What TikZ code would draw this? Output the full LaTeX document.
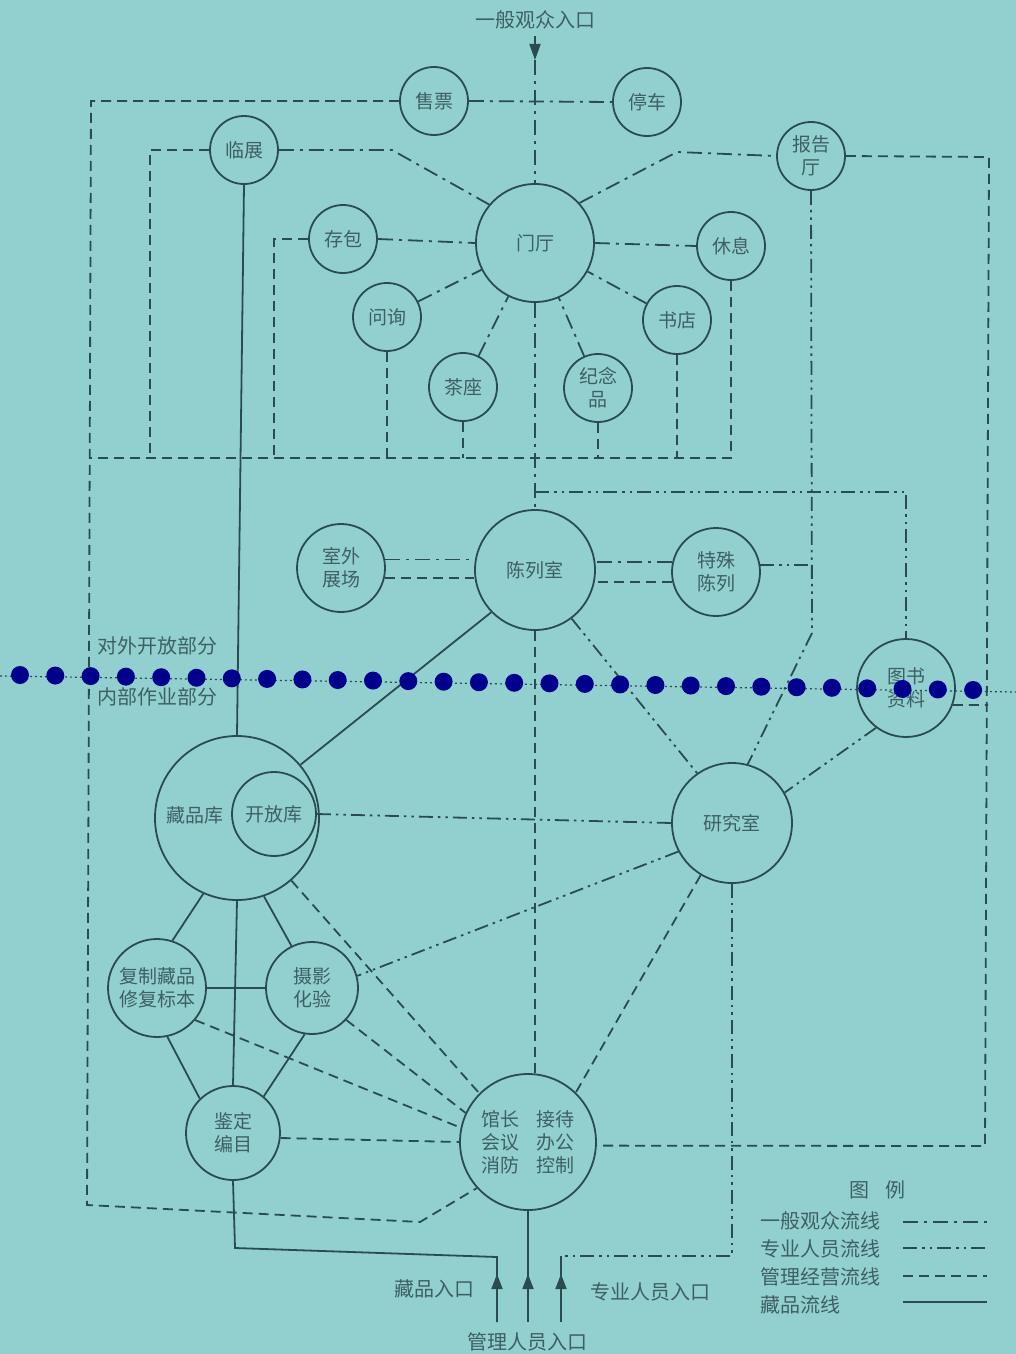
\documentclass[tikz,border=0pt]{standalone}
\usepackage{fontspec}
\newfontfamily\cjk{Noto Sans CJK SC}
\usetikzlibrary{arrows.meta}
\definecolor{paper}{RGB}{145,208,207}
\definecolor{ink}{RGB}{42,76,80}
\definecolor{inktext}{RGB}{62,96,100}
\definecolor{dotblue}{RGB}{0,0,140}

\begin{document}
\begin{tikzpicture}[x=1pt, y=-1pt, line width=1.8pt, color=ink]
  \tikzstyle{every node} = [inner sep=0pt, text=inktext, font=\cjk\fontsize{19}{23}\selectfont];
  \tikzstyle{room} = [draw=ink, circle, minimum size=68pt, align=center];
  \tikzstyle{sidetext} = [font=\cjk\fontsize{20}{24}\selectfont];
  \tikzstyle{visitor} = [dash pattern=on 15pt off 6pt on 3pt off 6pt];
  \tikzstyle{expert} = [dash pattern=on 14pt off 5pt on 2.5pt off 5pt on 2.5pt off 5pt];
  \tikzstyle{staff} = [dash pattern=on 10pt off 6pt];
  \tikzstyle{relic} = [solid];
  \useasboundingbox (0,0) rectangle (1016,1354);
  \fill[paper] (0,0) rectangle (1016,1354);

  % rooms, public part
  \node[room] (shoupiao) at (434,101) {售票};
  \node[room] (tingche) at (647,102) {停车};
  \node[room] (linzhan) at (244,150) {临展};
  \node[room] (baogao) at (811,156) {报告\\厅};
  \node[room, minimum size=118pt] (menting) at (535,243) {门厅};
  \node[room] (cunbao) at (343,239) {存包};
  \node[room] (xiuxi) at (731,246) {休息};
  \node[room] (wenxun) at (387,317) {问询};
  \node[room] (shudian) at (677,320) {书店};
  \node[room] (chazuo) at (463,387) {茶座};
  \node[room] (jinian) at (598,388) {纪念\\品};
  \node[room, minimum size=120pt] (chenlie) at (535,570) {陈列室};
  \node[room, minimum size=88pt] (shiwai) at (341,568) {室外\\展场};
  \node[room, minimum size=88pt] (teshu) at (716,572) {特殊\\陈列};
  \node[room, minimum size=98pt] (tushu) at (906,688) {图书\\资料};

  % rooms, inner part
  \node[room, minimum size=120pt] (yanjiu) at (732,823) {研究室};
  \node[room, minimum size=164pt] (cangpin) at (237,818) {};
  \node (cangpintext) at (195,815) {藏品库};
  \node[room, minimum size=84pt] (kaifang) at (274,814) {开放库};
  \node[room, minimum size=98pt] (fuzhi) at (157,988) {复制藏品\\修复标本};
  \node[room, minimum size=92pt] (sheying) at (312,988) {摄影\\化验};
  \node[room, minimum size=94pt] (jianding) at (233,1133) {鉴定\\编目};
  \node[room, minimum size=136pt] (guanzhang) at (528,1142)
    {馆长\hspace{17pt}接待\\会议\hspace{17pt}办公\\消防\hspace{17pt}控制};

  \coordinate (gatetop) at (535,60);
  \coordinate (split) at (535,492);
  \coordinate (hline) at (90,458);
  \coordinate (bgturn) at (812,633);
  \coordinate (relicgate) at (497,1322);
  \coordinate (staffgate) at (528,1322);
  \coordinate (expertgate) at (561,1322);

  % visitors
  \draw[visitor] (gatetop) -- (menting.north);
  \draw[visitor] (shoupiao.east) -- (tingche.west);
  \draw[visitor] (linzhan.east) -- (392,150) -- (menting.140);
  \draw[visitor] (menting.42) -- (677,152) -- (baogao.west);
  \draw[visitor] (cunbao.east) -- (menting.west);
  \draw[visitor] (menting.east) -- (xiuxi.west);
  \foreach \n in {wenxun, chazuo, jinian, shudian}
    \draw[visitor] (\n) -- (menting);
  \draw[visitor] (menting.south) -- (chenlie.north);
  \draw[visitor] (shiwai.11) -- (shiwai.11 -| chenlie.west);
  \draw[visitor] (teshu.167) -- (teshu.167 -| chenlie.east);

  % experts
  \draw[expert] (baogao.south) -- (bgturn) -- (yanjiu.75);
  \draw[expert] (teshu.9) -- (teshu.9 -| bgturn);
  \draw[expert] (split) -- (split -| tushu.north) -- (tushu.north);
  \draw[expert] (chenlie.-53) -- (yanjiu.125);
  \draw[expert] (tushu.233) -- (yanjiu.30);
  \draw[expert] (kaifang.east) -- (yanjiu.west);
  \draw[expert] (yanjiu.208) -- (sheying.15);
  \draw[expert] (yanjiu.south) -- (732,1256) -- (561,1256);
  \draw (561,1256) -- (expertgate);

  % staff
  \draw[staff] (shoupiao.west) -- (91,101) -- (87,1205) -- (420,1222) -- (guanzhang.222);
  \draw[staff] (xiuxi.south) -- (xiuxi.south |- hline) -- (hline);
  \draw[staff] (linzhan.west) -- (150,150) -- (150,458);
  \draw[staff] (cunbao.west) -- (274,239) -- (274,458);
  \foreach \n in {wenxun, chazuo, jinian, shudian}
    \draw[staff] (\n.south) -- (\n.south |- hline);
  \draw[staff] (baogao.east) -- (989,157) -- (985,1146) -- (guanzhang.-3);
  \draw[staff] (tushu.-20) -- (988,705);
  \draw[staff] (shiwai.-13) -- (shiwai.-13 -| chenlie.west);
  \draw[staff] (teshu.193) -- (teshu.193 -| chenlie.east);
  \draw[staff] (chenlie.south) -- (chenlie.south |- guanzhang.north);
  \draw[staff] (cangpin.311) -- (guanzhang.135);
  \draw[staff] (sheying.317) -- (guanzhang.155);
  \draw[staff] (fuzhi.320) -- (guanzhang.168);
  \draw[staff] (jianding.-6) -- (guanzhang.west);
  \draw[staff] (yanjiu.239) -- (guanzhang.46);
  \draw (guanzhang.south) -- (staffgate);

  % collection
  \draw[relic] (linzhan.south) -- (cangpin.north);
  \draw[relic] (cangpin.40) -- (chenlie.224);
  \draw[relic] (cangpin.south) -- (jianding.north);
  \draw[relic] (cangpin.246) -- (fuzhi.72);
  \draw[relic] (cangpin.289) -- (sheying.116);
  \draw[relic] (fuzhi.east) -- (sheying.west);
  \draw[relic] (fuzhi.282) -- (jianding.134);
  \draw[relic] (sheying.261) -- (jianding.50);
  \draw[relic] (jianding.south) -- (235,1248) -- (497,1257) -- (relicgate);

  % entrances
  \draw[-{Triangle[length=16pt,width=11pt]}] (535,36) -- (gatetop);
  \foreach \x in {497,528,561}
    \draw[-{Triangle[length=15pt,width=11pt]}] (\x,1294) -- (\x,1274);
  \node[sidetext] (gatetext) at (535,20) {一般观众入口};
  \node[sidetext] (relictext) at (434,1289) {藏品入口};
  \node[sidetext] (experttext) at (650,1292) {专业人员入口};
  \node[sidetext] (stafftext) at (527,1342) {管理人员入口};

  % divider
  \node[sidetext] (opentext) at (157,646) {对外开放部分};
  \node[sidetext] (innertext) at (157,697) {内部作业部分};
  \draw[line width=1.2pt, dash pattern=on 2pt off 3pt] (0,676) -- (1016,692);
  \foreach \i in {0,...,27}
    \fill[dotblue] (20+35.3*\i, 675+0.556*\i) circle (9pt);

  % legend
  \node[sidetext] (legendtitle) at (877,1190) {图\hspace{16pt}例};
  \node[sidetext, anchor=west] (legvisitor) at (760,1221) {一般观众流线};
  \node[sidetext, anchor=west] (legexpert) at (760,1249) {专业人员流线};
  \node[sidetext, anchor=west] (legstaff) at (760,1277) {管理经营流线};
  \node[sidetext, anchor=west] (legrelic) at (760,1305) {藏品流线};
  \draw[visitor] (903,1222) -- (987,1222);
  \draw[expert] (903,1248) -- (987,1248);
  \draw[staff] (903,1276) -- (987,1276);
  \draw[relic] (903,1302) -- (987,1302);
\end{tikzpicture}
\end{document}
